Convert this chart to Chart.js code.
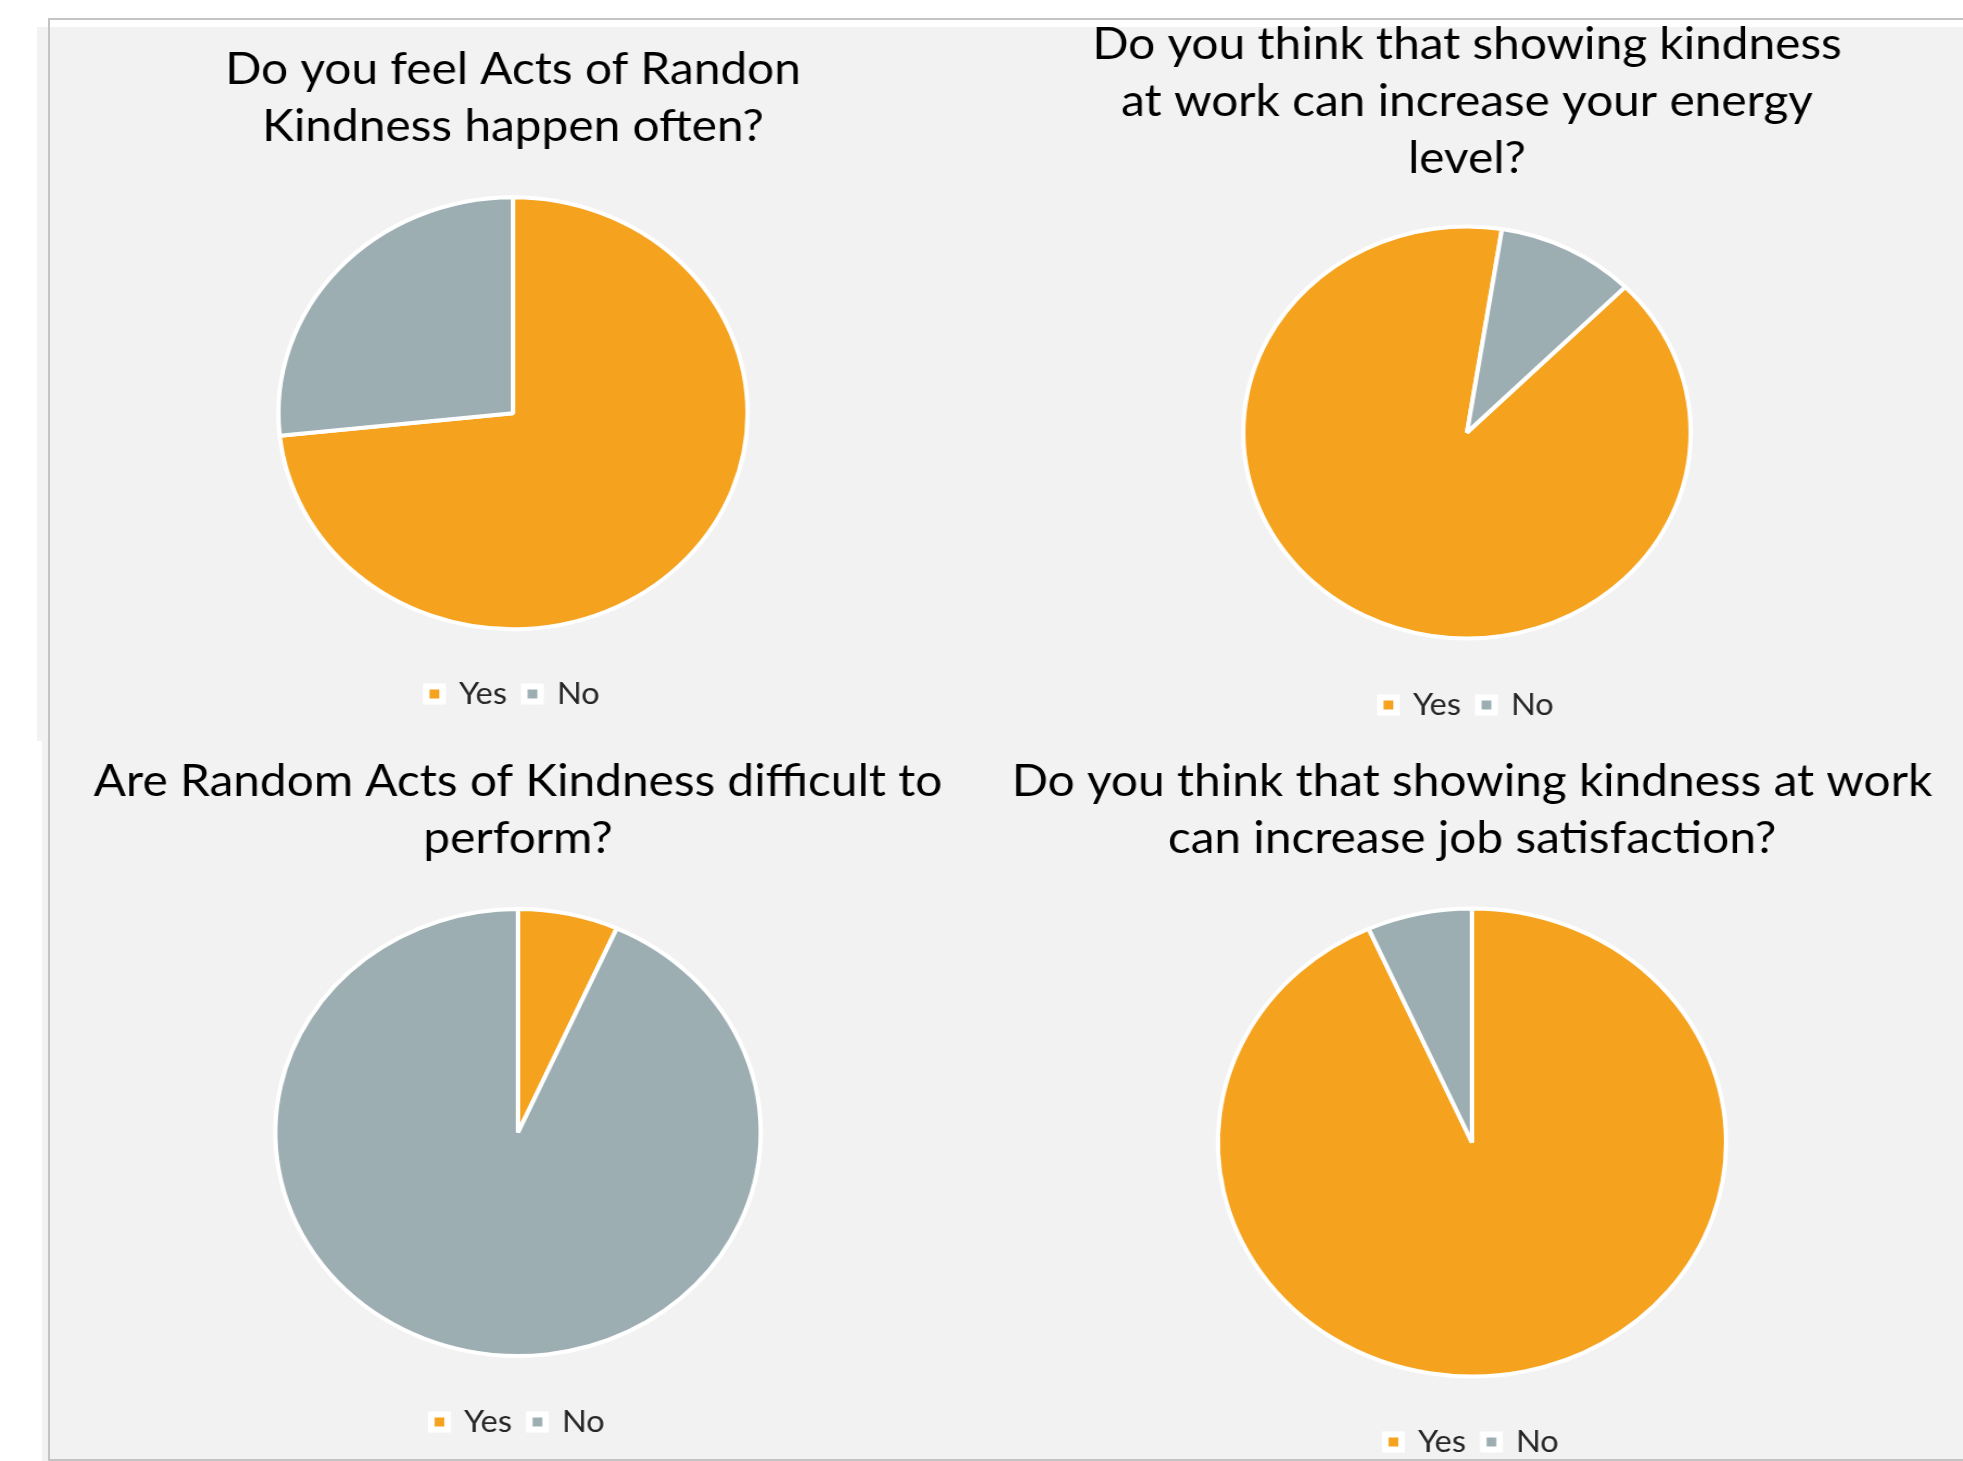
<!DOCTYPE html>
<html>
<head>
<meta charset="utf-8">
<script src="https://cdn.jsdelivr.net/npm/chart.js@4.4.0/dist/chart.umd.min.js"></script>
<style>
  html, body { margin: 0; padding: 0; width: 1963px; height: 1461px; overflow: hidden; background: #ffffff; }
  .panel { position: absolute; background: #f2f2f2; }
  .rule { position: absolute; background: #c4c4c4; }
  .pie-box { position: absolute; transform: scaleX(1.086); transform-origin: 50% 50%; }
</style>
</head>
<body>
<div class="panel" style="left:37px;top:27px;width:1926px;height:714px"></div>
<div class="panel" style="left:42px;top:741px;width:1921px;height:720px"></div>
<div class="rule" style="left:48px;top:18px;width:1915px;height:2px"></div>
<div class="rule" style="left:48px;top:18px;width:2px;height:1443px"></div>
<div class="rule" style="left:48px;top:1459px;width:1915px;height:2px"></div>
<div id="charts"></div>
<script>
const categories = ["Yes", "No"];
const pieColors = ["#F5A31E", "#9DAEB3"];

const oftenTitle = ["Do you feel Acts of Randon", "Kindness happen often?"];
const oftenValues = [11, 4];

const energyTitle = ["Do you think that showing kindness", "at work can increase your energy", "level?"];
const energyValues = [9, 1];

const difficultTitle = ["Are Random Acts of Kindness difficult to", "perform?"];
const difficultValues = [1, 14];

const satisfactionTitle = ["Do you think that showing kindness at work", "can increase job satisfaction?"];
const satisfactionValues = [14, 1];

// Where each pie sits on the page (the boxes are stretched a bit wider by scaleX)
const layouts = [
  { title: oftenTitle, values: oftenValues, cx: 513, top: 20, width: 860, height: 699, radius: 216, titleTop: 21.5, titleBottom: 8, rotation: 0 },
  { title: energyTitle, values: energyValues, cx: 1467, top: 0, width: 860, height: 730, radius: 206, titleTop: 16.5, titleBottom: 3.5, rotation: 45 },
  { title: difficultTitle, values: difficultValues, cx: 518, top: 720, width: 900, height: 727, radius: 223.5, titleTop: 33.5, titleBottom: 6.5, rotation: 0 },
  { title: satisfactionTitle, values: satisfactionValues, cx: 1472, top: 720, width: 900, height: 747, radius: 234, titleTop: 33.5, titleBottom: 6.5, rotation: 0 },
];

Chart.defaults.font.family = "Lato";

function legendLabels(chart) {
  const base = (Chart.overrides.pie || Chart.overrides.doughnut).plugins.legend.labels.generateLabels;
  const items = base(chart);
  // thick white frame round the small colour square
  items.forEach(function(item) { item.lineWidth = 6; });
  return items;
}

function drawPie(layout) {
  const box = document.createElement("div");
  box.classList.add("pie-box");
  box.style.left = (layout.cx - layout.width / 2) + "px";
  box.style.top = layout.top + "px";
  box.style.width = layout.width + "px";
  box.style.height = layout.height + "px";

  const canvas = document.createElement("canvas");
  canvas.width = layout.width;
  canvas.height = layout.height;
  box.appendChild(canvas);
  document.getElementById("charts").appendChild(box);

  new Chart(canvas.getContext("2d"), {
    type: "pie",
    data: {
      labels: categories,
      datasets: [{
        data: layout.values,
        backgroundColor: pieColors,
        borderColor: "#ffffff",
        borderWidth: 4,
      }],
    },
    options: {
      responsive: false,
      animation: false,
      rotation: layout.rotation,
      radius: layout.radius,
      plugins: {
        title: {
          display: true,
          text: layout.title,
          color: "#000000",
          font: { size: 44, weight: "normal", lineHeight: 57 / 44 },
          padding: { top: layout.titleTop, bottom: layout.titleBottom },
        },
        legend: {
          position: "bottom",
          labels: {
            boxWidth: 15,
            boxHeight: 15,
            padding: 16,
            color: "#262626",
            font: { size: 30 },
            generateLabels: legendLabels,
          },
        },
        tooltip: { enabled: false },
      },
    },
  });
}

layouts.forEach(drawPie);
</script>
</body>
</html>
